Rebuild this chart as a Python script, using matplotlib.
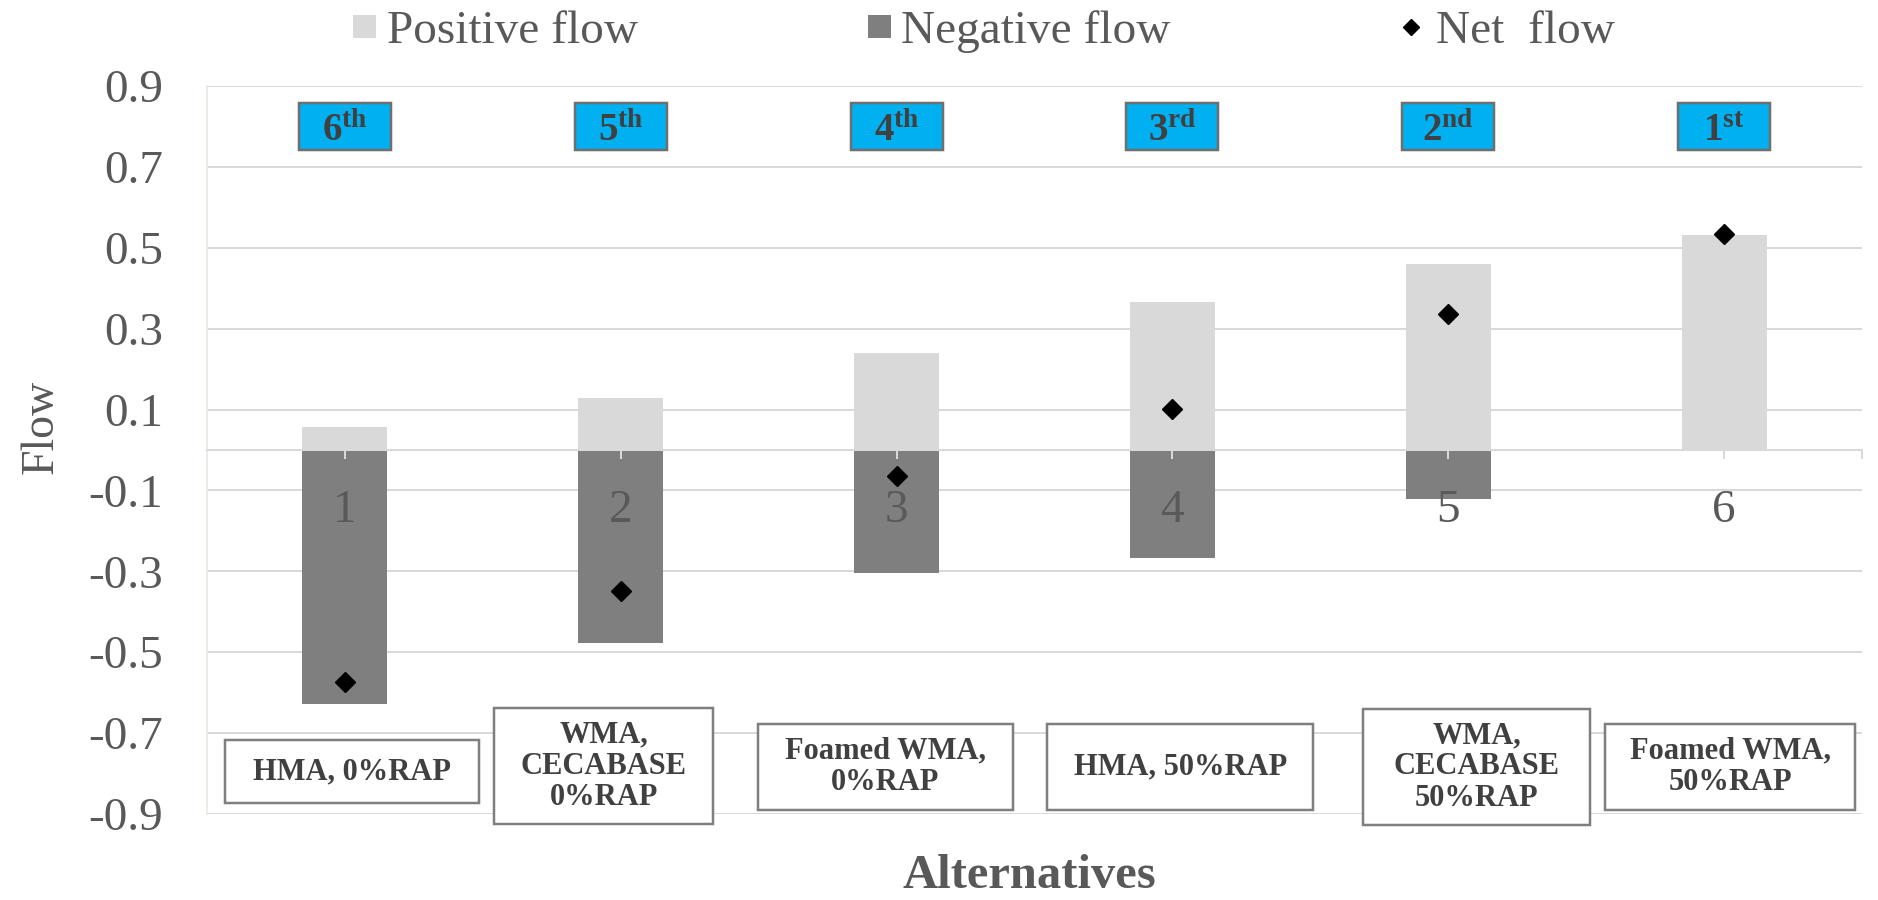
import matplotlib
matplotlib.use("Agg")
import matplotlib.pyplot as plt
from matplotlib.patches import Rectangle
from matplotlib.lines import Line2D
import numpy as np

plt.rcParams['font.family'] = ['Liberation Serif', 'DejaVu Serif']
plt.rcParams['mathtext.fontset'] = 'custom'
plt.rcParams['mathtext.rm'] = 'Liberation Serif'
plt.rcParams['mathtext.bf'] = 'Liberation Serif:bold'

# data
categories = ["1", "2", "3", "4", "5", "6"]
alternatives = ["HMA, 0%RAP", "WMA,\nCECABASE\n0%RAP", "Foamed WMA,\n0%RAP",
                "HMA, 50%RAP", "WMA,\nCECABASE\n50%RAP", "Foamed WMA,\n50%RAP"]
positive_flow = [0.056, 0.129, 0.240, 0.365, 0.459, 0.532]
negative_flow = [-0.629, -0.478, -0.305, -0.266, -0.121, 0.0]
net_flow = [-0.573, -0.348, -0.064, 0.101, 0.336, 0.533]
rank_num = ["6", "5", "4", "3", "2", "1"]
rank_suffix = ["th", "th", "th", "rd", "nd", "st"]
yticks = [-0.9, -0.7, -0.5, -0.3, -0.1, 0.1, 0.3, 0.5, 0.7, 0.9]

# label box layout: (x0, x1, y0, y1) in data units
box_layout = [(-0.435, 0.486, -0.717, -0.873),
              (0.541, 1.335, -0.638, -0.925),
              (1.498, 2.422, -0.677, -0.890),
              (2.546, 3.510, -0.677, -0.890),
              (3.692, 4.515, -0.640, -0.927),
              (4.569, 5.475, -0.677, -0.890)]

W, H = 1878, 900
PT = 0.72  # points per pixel at dpi 100
GRAY_TXT = '#595959'
DARK_TXT = '#404040'
GRID = '#d9d9d9'

fig = plt.figure(figsize=(W / 100, H / 100), dpi=100)
ax = fig.add_axes([207 / W, 1 - 814 / H, 1655 / W, 728 / H])
ax.set_axisbelow(False)

x = np.arange(len(categories))
ax.bar(x, positive_flow, width=0.308, color='#d9d9d9', zorder=2)
ax.bar(x, negative_flow, width=0.308, color='#7f7f7f', zorder=2)
ax.plot(x, net_flow, 'D', color='black', ms=10, zorder=6, ls='')

for v in yticks:
    ax.axhline(v, color=GRID, lw=2 * PT, zorder=0)

ax.set_xlim(-0.5, 5.5)
ax.set_ylim(-0.9, 0.9)

ax.set_yticks(yticks)
ax.set_yticklabels([f"{v:.1f}" for v in yticks])
ax.tick_params(axis='y', length=0, pad=44 * PT, labelsize=34, labelcolor=GRAY_TXT)

ax.set_xticks(x)
ax.set_xticklabels(categories)
ax.set_xticks([5.5], minor=True)
ax.tick_params(axis='x', which='both', direction='out', length=9 * PT, width=2 * PT,
               color=GRID, pad=22, labelsize=34, labelcolor=GRAY_TXT)

for s in ['top', 'right']:
    ax.spines[s].set_visible(False)
ax.spines['bottom'].set_position(('data', 0))
ax.spines['bottom'].set_color(GRID)
ax.spines['bottom'].set_linewidth(2 * PT)
ax.spines['left'].set_color('#ecece4')
ax.spines['left'].set_linewidth(2 * PT)

# rank boxes on top
for i in range(len(categories)):
    ax.add_patch(Rectangle((i - 0.167, 0.742), 0.334, 0.116, facecolor='#00b0f0',
                           edgecolor='#6f6f6f', lw=2.5 * PT, zorder=5))
    ax.text(i, 0.763, rf"$\mathbf{{{rank_num[i]}^{{{rank_suffix[i]}}}}}$", ha='center',
            va='baseline', fontsize=28, color=DARK_TXT, zorder=6)

# alternative name boxes at the bottom
for (x0, x1, y0, y1), name in zip(box_layout, alternatives):
    ax.add_patch(Rectangle((x0, y1), x1 - x0, y0 - y1, facecolor='white',
                           edgecolor='#7f7f7f', lw=2.5 * PT, zorder=5, clip_on=False))
    ax.text((x0 + x1) / 2, (y0 + y1) / 2, name, ha='center', va='center', fontsize=22,
            fontweight='bold', color=DARK_TXT, linespacing=1.1, zorder=6)

ax.set_ylabel("Flow", fontsize=33, color=GRAY_TXT, va='center')
ax.yaxis.set_label_coords(-0.1, 0.532)
ax.set_xlabel("Alternatives", fontsize=35, fontweight='bold', color=GRAY_TXT)
ax.xaxis.set_label_coords(0.497, -0.055)

# legend drawn in figure pixels
fig.add_artist(Rectangle((353 / W, 1 - 38 / H), 23 / W, 23 / H, transform=fig.transFigure,
                         facecolor='#d9d9d9', edgecolor='none'))
fig.text(387 / W, 1 - 43 / H, "Positive flow", fontsize=34, color=GRAY_TXT, va='baseline')
fig.add_artist(Rectangle((868 / W, 1 - 38 / H), 23 / W, 23 / H, transform=fig.transFigure,
                         facecolor='#7f7f7f', edgecolor='none'))
fig.text(901 / W, 1 - 43 / H, "Negative flow", fontsize=34, color=GRAY_TXT, va='baseline')
fig.add_artist(Line2D([1411 / W], [1 - 27 / H], marker='D', ms=8, color='black', ls='',
                      transform=fig.transFigure))
fig.text(1436 / W, 1 - 43 / H, "Net  flow", fontsize=34, color=GRAY_TXT, va='baseline')

fig.savefig("out.png", dpi=100, facecolor='white')
